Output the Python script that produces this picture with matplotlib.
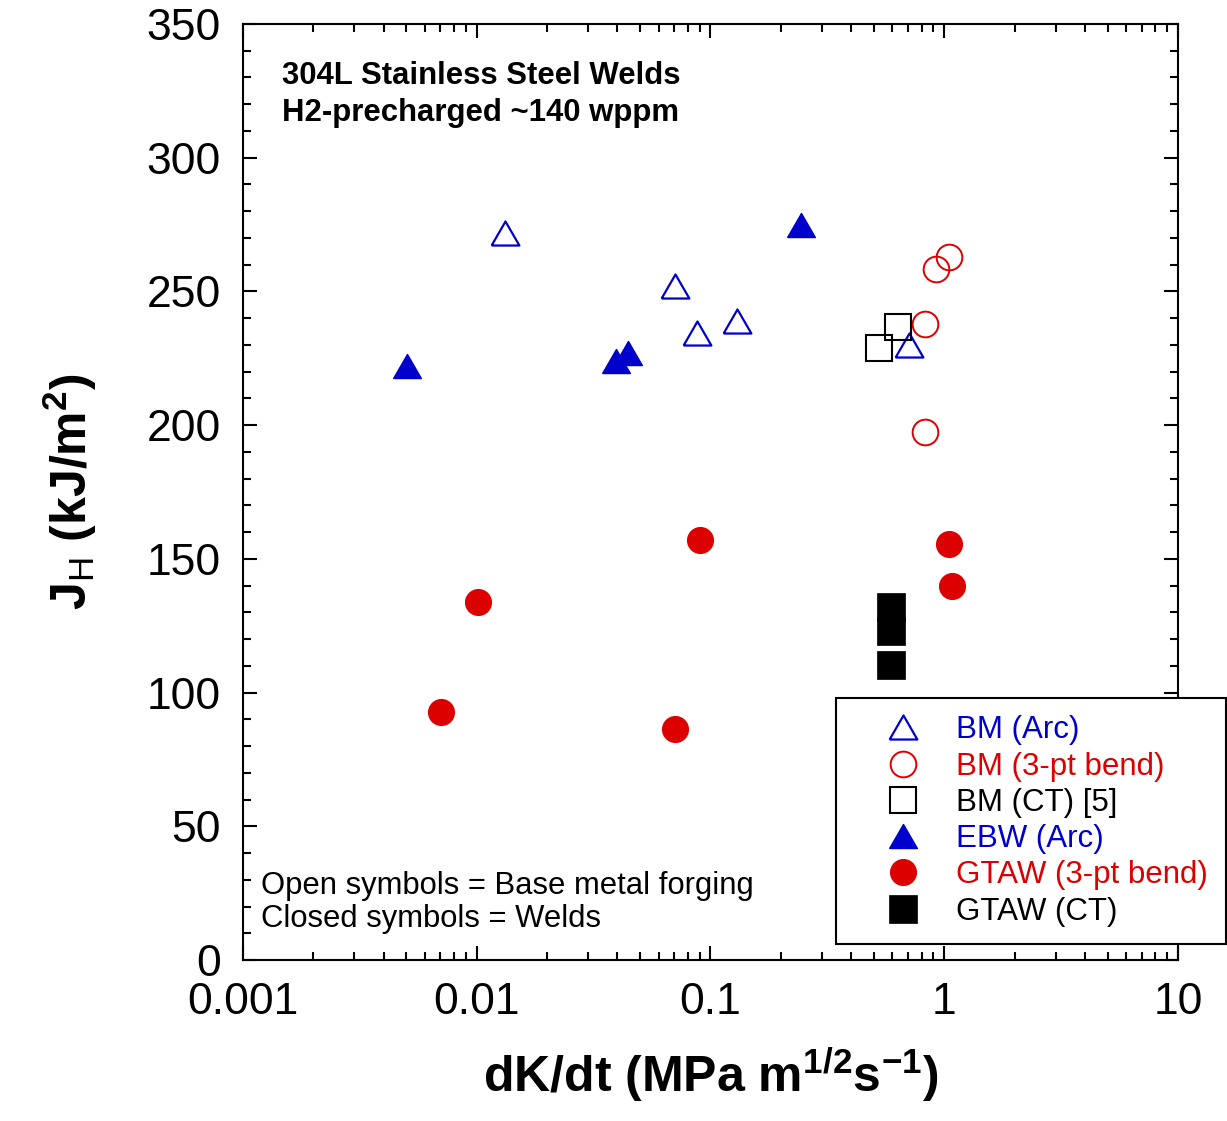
import numpy as np
import matplotlib
matplotlib.use('Agg')
from matplotlib import pyplot as plt
from matplotlib.ticker import MultipleLocator, LogLocator, NullFormatter, FixedFormatter, FixedLocator

plt.rcParams['font.family'] = ['Liberation Sans', 'DejaVu Sans']
plt.rcParams['mathtext.fontset'] = 'custom'
plt.rcParams['mathtext.rm'] = 'Liberation Sans'
plt.rcParams['mathtext.bf'] = 'Liberation Sans:bold'

# dK/dt (MPa m^1/2 s^-1) and J_H (kJ/m^2)
bm_arc_x = [0.0132, 0.0702, 0.088, 0.130, 0.708]
bm_arc_y = [272, 252, 234.5, 239, 230]

bm_bend_x = [1.05, 0.924, 0.829, 0.829]
bm_bend_y = [263, 258.3, 238, 197.3]

bm_ct_x = [0.527, 0.635]
bm_ct_y = [229, 236.6]

ebw_arc_x = [0.00502, 0.0396, 0.0442, 0.243]
ebw_arc_y = [222, 224, 227, 275]

gtaw_bend_x = [0.00702, 0.0101, 0.0702, 0.0906, 1.05, 1.08]
gtaw_bend_y = [92.8, 134, 86.5, 157.2, 155.4, 140]

gtaw_ct_x = [0.594, 0.594, 0.594]
gtaw_ct_y = [132, 123, 110.5]

blue = '#0000cc'
red = '#dd0000'

# equilateral triangle marker, centred on its bounding box
tri = [(-1, -0.866), (1, -0.866), (0, 0.866), (-1, -0.866)]

fig = plt.figure(figsize=(12.27, 11.21), dpi=100)
ax = fig.add_axes([0.198, 0.1436, 0.762, 0.835])

ax.plot(bm_arc_x, bm_arc_y, ls='none', marker=tri, ms=20, mfc='none', mec=blue, mew=1.6, label='BM (Arc)')
ax.plot(bm_bend_x, bm_bend_y, ls='none', marker='o', ms=18.5, mfc='none', mec=red, mew=1.4, label='BM (3-pt bend)')
ax.plot(bm_ct_x, bm_ct_y, ls='none', marker='s', ms=19, mfc='none', mec='black', mew=1.5, label='BM (CT) [5]')
ax.plot(ebw_arc_x, ebw_arc_y, ls='none', marker=tri, ms=20, mfc=blue, mec=blue, mew=1, label='EBW (Arc)')
ax.plot(gtaw_bend_x, gtaw_bend_y, ls='none', marker='o', ms=18.5, mfc=red, mec=red, mew=1, label='GTAW (3-pt bend)')
ax.plot(gtaw_ct_x, gtaw_ct_y, ls='none', marker='s', ms=20, mfc='black', mec='black', mew=0.5, label='GTAW (CT)')

ax.set_xscale('log')
ax.set_xlim(0.001, 10)
ax.set_ylim(0, 350)
ax.yaxis.set_major_locator(MultipleLocator(50))
ax.yaxis.set_minor_locator(MultipleLocator(10))
ax.xaxis.set_major_locator(FixedLocator([0.001, 0.01, 0.1, 1, 10]))
ax.xaxis.set_major_formatter(FixedFormatter(['0.001', '0.01', '0.1', '1', '10']))
ax.xaxis.set_minor_locator(LogLocator(base=10, subs=np.arange(2, 10)))
ax.xaxis.set_minor_formatter(NullFormatter())

ax.tick_params(which='both', direction='in', top=True, right=True, width=1.5, labelsize=32)
ax.tick_params(which='major', length=10)
ax.tick_params(which='minor', length=6)
ax.tick_params(axis='x', pad=16)
ax.tick_params(axis='y', pad=16)
for s in ax.spines.values():
    s.set_linewidth(1.5)

ax.set_xlabel('dK/dt (MPa m$^{\\mathbf{1/2}}$s$^{\\mathbf{-1}}$)', fontsize=36, fontweight='bold', labelpad=16)
ax.set_ylabel('J$_{\\rm H}$ (kJ/m$^{\\mathbf{2}}$)', fontsize=36, fontweight='bold', labelpad=34)

ax.text(0.042, 0.960, '304L Stainless Steel Welds\nH2-precharged ~140 wppm', transform=ax.transAxes,
        fontsize=22.4, fontweight='bold', va='top', ha='left', linespacing=1.27)
ax.text(0.019, 0.028, 'Open symbols = Base metal forging\nClosed symbols = Welds', transform=ax.transAxes,
        fontsize=22.3, va='bottom', ha='left', linespacing=1.13)

leg = ax.legend(loc='upper left', bbox_to_anchor=(0.634, 0.280), fontsize=22.5, frameon=True, fancybox=False,
                edgecolor='black', framealpha=1, labelcolor='markeredgecolor', handlelength=3.2,
                handletextpad=0.1, labelspacing=0.2, borderpad=0.56, borderaxespad=0, numpoints=1)
leg.get_frame().set_linewidth(1.5)
leg.set_zorder(10)

fig.savefig('out.png', dpi=100)
